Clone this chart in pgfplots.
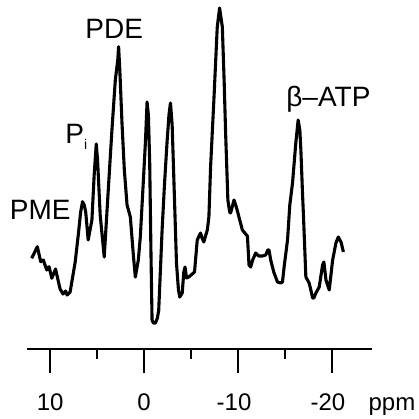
\documentclass[border=0pt]{standalone}
\usepackage{pgfplots}
\pgfplotsset{compat=1.18}
\usepackage{pgfplotstable}
\usepackage{fontspec}
\setmainfont{Liberation Sans}

\pgfplotstableread{
ppm h
11.96 90.7
11.36 102.3
11.00 87.3
10.72 89
10.36 79
10.11 82.3
9.82 70.7
9.42 80
8.94 60
8.62 55
8.35 58
8.19 54
7.87 57
7.33 87
6.98 116
6.75 137
6.55 147.3
6.37 144
6.21 137
5.95 109
5.55 129
5.31 174
5.09 205
4.95 189
4.67 134
4.24 92
3.81 159
3.42 219
3.06 269
2.80 289
2.71 302.3
2.58 279
2.35 226
2.10 179
1.81 144
1.46 132
1.14 94
0.93 72
0.61 89
0.40 112
0.07 169
-0.14 206
-0.32 247
-0.46 234
-0.60 186
-0.73 99
-0.85 29
-0.99 26
-1.21 26
-1.42 31
-1.56 39
-1.92 119
-2.17 164
-2.46 209
-2.65 234
-2.81 246
-2.99 224
-3.23 152
-3.45 86
-3.66 59
-3.80 52
-4.06 56
-4.23 77
-4.36 82
-4.52 71
-4.76 72
-5.12 75
-5.37 77
-5.66 109
-5.85 113
-6.01 116
-6.17 111
-6.36 107
-6.73 119
-6.90 132
-7.08 182
-7.43 249
-7.79 322
-8.04 341
-8.33 322
-8.52 269
-8.68 216
-8.92 149
-9.11 137
-9.21 136
-9.57 149
-9.85 141
-10.10 132
-10.46 119
-10.81 115
-11.00 113
-11.17 84
-11.35 82
-11.56 89
-11.88 96
-12.20 93
-12.60 93
-12.95 94
-13.16 99
-13.30 99
-13.48 89
-13.80 77
-14.20 67
-14.55 66
-14.73 67
-14.93 84
-15.27 109
-15.51 144
-15.80 166
-16.15 206
-16.40 229
-16.58 219
-16.69 199
-16.85 159
-16.97 132
-17.22 72
-17.57 66
-17.75 59
-17.94 51
-18.07 51
-18.29 56
-18.64 62
-19.00 84
-19.14 87
-19.36 69
-19.71 59
-20.07 89
-20.42 106
-20.67 112
-20.96 107
-21.22 97
}\spectrum

\begin{document}
\begin{tikzpicture}
\useasboundingbox (0,0) rectangle (419pt,418pt);
\begin{axis}[
  at={(27pt,69pt)}, anchor=south west,
  scale only axis, width=345pt, height=349pt,
  xmin=-24.26, xmax=12.46, ymin=0, ymax=349,
  x dir=reverse,
  axis x line*=bottom, axis y line=none,
  axis line style={line width=2.8pt, line cap=butt},
  tick align=outside,
  xtick={-20,-10,0,10},
  xticklabels={\llap{-}20,\llap{-}10,0,10},
  minor xtick={-15,-5,5},
  major tick length=24pt, minor tick length=10pt,
  every major tick/.append style={line width=2.4pt, black},
  every minor tick/.append style={line width=2.4pt, black},
  xticklabel style={anchor=base, yshift=-37.7pt, font=\fontsize{24}{28}\selectfont},
  clip=false,
]
\addplot[black, line width=3.1pt, line join=round] table[x=ppm, y=h] {\spectrum};
\node[anchor=base, font=\fontsize{28}{32}\selectfont] at (axis cs:3.17,310) {PDE};
\node[anchor=base west, inner sep=0pt, font=\fontsize{28}{32}\selectfont] at (axis cs:8.40,206) {P\raisebox{-6pt}{\fontsize{14}{14}\selectfont i}};
\node[anchor=base, font=\fontsize{28}{32}\selectfont] at (axis cs:11.04,130) {PME};
\node[anchor=base, font=\fontsize{28}{32}\selectfont] at (axis cs:-19.62,242.3) {β--ATP};
\node[anchor=base, font=\fontsize{24}{28}\selectfont] at (axis cs:-26.38,-61.7) {ppm};
\end{axis}
\end{tikzpicture}
\end{document}
